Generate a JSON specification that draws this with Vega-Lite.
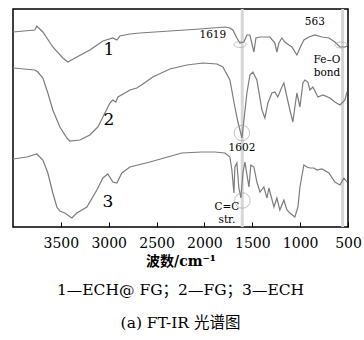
{
  "$schema": "https://vega.github.io/schema/vega-lite/v6.json",
  "width": 335,
  "height": 218,
  "autosize": {"type": "none"},
  "padding": {"left": 13, "top": 9, "right": 16, "bottom": 113},
  "background": "white",
  "config": {
    "view": {"stroke": "black", "strokeWidth": 1.5},
    "font": "DejaVu Serif"
  },
  "title": {
    "text": ["1—ECH@ FG；2—FG；3—ECH", "(a) FT-IR 光谱图"],
    "orient": "bottom",
    "anchor": "middle",
    "offset": 15,
    "font": "'DejaVu Serif', 'Noto Sans CJK SC', serif",
    "fontSize": 15.5,
    "fontWeight": "normal",
    "lineHeight": 33,
    "color": "black"
  },
  "datasets": {
    "spectra": [
      {"wn": 4000, "t": 195, "s": "1"}, {"wn": 3772, "t": 197, "s": "1"}, {"wn": 3751, "t": 201, "s": "1"}, {"wn": 3688, "t": 195, "s": "1"},
      {"wn": 3584, "t": 180, "s": "1"}, {"wn": 3479, "t": 169, "s": "1"}, {"wn": 3427, "t": 165, "s": "1"}, {"wn": 3333, "t": 170, "s": "1"},
      {"wn": 3197, "t": 177, "s": "1"}, {"wn": 3061, "t": 186, "s": "1"}, {"wn": 2957, "t": 189, "s": "1"}, {"wn": 2915, "t": 187, "s": "1"},
      {"wn": 2883, "t": 191, "s": "1"}, {"wn": 2779, "t": 193, "s": "1"}, {"wn": 2674, "t": 194, "s": "1"}, {"wn": 2361, "t": 196, "s": "1"},
      {"wn": 2047, "t": 198, "s": "1"}, {"wn": 1786, "t": 200, "s": "1"}, {"wn": 1734, "t": 199, "s": "1"}, {"wn": 1703, "t": 197, "s": "1"},
      {"wn": 1661, "t": 189, "s": "1"}, {"wn": 1629, "t": 184, "s": "1"}, {"wn": 1588, "t": 185, "s": "1"}, {"wn": 1556, "t": 192, "s": "1"},
      {"wn": 1525, "t": 192, "s": "1"}, {"wn": 1483, "t": 175, "s": "1"}, {"wn": 1462, "t": 189, "s": "1"}, {"wn": 1420, "t": 190, "s": "1"},
      {"wn": 1368, "t": 190, "s": "1"}, {"wn": 1316, "t": 190, "s": "1"}, {"wn": 1264, "t": 184, "s": "1"}, {"wn": 1243, "t": 175, "s": "1"},
      {"wn": 1222, "t": 184, "s": "1"}, {"wn": 1191, "t": 189, "s": "1"}, {"wn": 1159, "t": 185, "s": "1"}, {"wn": 1117, "t": 182, "s": "1"},
      {"wn": 1086, "t": 180, "s": "1"}, {"wn": 1034, "t": 172, "s": "1"}, {"wn": 1002, "t": 179, "s": "1"}, {"wn": 961, "t": 187, "s": "1"},
      {"wn": 908, "t": 190, "s": "1"}, {"wn": 846, "t": 192, "s": "1"}, {"wn": 772, "t": 190, "s": "1"}, {"wn": 699, "t": 189, "s": "1"},
      {"wn": 637, "t": 185, "s": "1"}, {"wn": 584, "t": 180, "s": "1"}, {"wn": 532, "t": 180, "s": "1"}, {"wn": 511, "t": 181, "s": "1"},

      {"wn": 4000, "t": 159, "s": "2"}, {"wn": 3772, "t": 157, "s": "2"}, {"wn": 3740, "t": 155, "s": "2"}, {"wn": 3688, "t": 149, "s": "2"},
      {"wn": 3636, "t": 134, "s": "2"}, {"wn": 3584, "t": 117, "s": "2"}, {"wn": 3510, "t": 100, "s": "2"}, {"wn": 3437, "t": 89, "s": "2"},
      {"wn": 3406, "t": 86, "s": "2"}, {"wn": 3301, "t": 87, "s": "2"}, {"wn": 3197, "t": 92, "s": "2"}, {"wn": 3113, "t": 100, "s": "2"},
      {"wn": 3040, "t": 114, "s": "2"}, {"wn": 2988, "t": 124, "s": "2"}, {"wn": 2957, "t": 127, "s": "2"}, {"wn": 2925, "t": 125, "s": "2"},
      {"wn": 2904, "t": 130, "s": "2"}, {"wn": 2831, "t": 134, "s": "2"}, {"wn": 2779, "t": 137, "s": "2"}, {"wn": 2706, "t": 139, "s": "2"},
      {"wn": 2643, "t": 143, "s": "2"}, {"wn": 2539, "t": 150, "s": "2"}, {"wn": 2361, "t": 158, "s": "2"}, {"wn": 2183, "t": 162, "s": "2"},
      {"wn": 2016, "t": 164, "s": "2"}, {"wn": 1870, "t": 163, "s": "2"}, {"wn": 1807, "t": 160, "s": "2"}, {"wn": 1734, "t": 147, "s": "2"},
      {"wn": 1682, "t": 120, "s": "2"}, {"wn": 1650, "t": 105, "s": "2"}, {"wn": 1608, "t": 89, "s": "2"}, {"wn": 1556, "t": 134, "s": "2"},
      {"wn": 1525, "t": 152, "s": "2"}, {"wn": 1494, "t": 155, "s": "2"}, {"wn": 1452, "t": 147, "s": "2"}, {"wn": 1399, "t": 117, "s": "2"},
      {"wn": 1368, "t": 109, "s": "2"}, {"wn": 1337, "t": 124, "s": "2"}, {"wn": 1295, "t": 134, "s": "2"}, {"wn": 1264, "t": 135, "s": "2"},
      {"wn": 1233, "t": 130, "s": "2"}, {"wn": 1191, "t": 140, "s": "2"}, {"wn": 1170, "t": 144, "s": "2"}, {"wn": 1138, "t": 130, "s": "2"},
      {"wn": 1107, "t": 117, "s": "2"}, {"wn": 1076, "t": 105, "s": "2"}, {"wn": 1055, "t": 120, "s": "2"}, {"wn": 1034, "t": 134, "s": "2"},
      {"wn": 1002, "t": 120, "s": "2"}, {"wn": 971, "t": 144, "s": "2"}, {"wn": 950, "t": 147, "s": "2"}, {"wn": 919, "t": 145, "s": "2"},
      {"wn": 898, "t": 137, "s": "2"}, {"wn": 867, "t": 140, "s": "2"}, {"wn": 814, "t": 130, "s": "2"}, {"wn": 762, "t": 132, "s": "2"},
      {"wn": 689, "t": 129, "s": "2"}, {"wn": 637, "t": 125, "s": "2"}, {"wn": 584, "t": 122, "s": "2"}, {"wn": 532, "t": 127, "s": "2"},
      {"wn": 511, "t": 135, "s": "2"},

      {"wn": 4000, "t": 68, "s": "3"}, {"wn": 3855, "t": 70, "s": "3"}, {"wn": 3751, "t": 73, "s": "3"}, {"wn": 3688, "t": 67, "s": "3"},
      {"wn": 3636, "t": 54, "s": "3"}, {"wn": 3584, "t": 34, "s": "3"}, {"wn": 3542, "t": 20, "s": "3"}, {"wn": 3510, "t": 16, "s": "3"},
      {"wn": 3458, "t": 14, "s": "3"}, {"wn": 3385, "t": 9, "s": "3"}, {"wn": 3333, "t": 14, "s": "3"}, {"wn": 3228, "t": 20, "s": "3"},
      {"wn": 3124, "t": 37, "s": "3"}, {"wn": 3061, "t": 49, "s": "3"}, {"wn": 3009, "t": 53, "s": "3"}, {"wn": 2957, "t": 45, "s": "3"},
      {"wn": 2915, "t": 44, "s": "3"}, {"wn": 2863, "t": 54, "s": "3"}, {"wn": 2779, "t": 60, "s": "3"}, {"wn": 2570, "t": 65, "s": "3"},
      {"wn": 2236, "t": 74, "s": "3"}, {"wn": 2027, "t": 75, "s": "3"}, {"wn": 1891, "t": 75, "s": "3"}, {"wn": 1786, "t": 74, "s": "3"},
      {"wn": 1734, "t": 70, "s": "3"}, {"wn": 1713, "t": 57, "s": "3"}, {"wn": 1692, "t": 34, "s": "3"}, {"wn": 1682, "t": 60, "s": "3"},
      {"wn": 1661, "t": 64, "s": "3"}, {"wn": 1640, "t": 39, "s": "3"}, {"wn": 1619, "t": 29, "s": "3"}, {"wn": 1598, "t": 54, "s": "3"},
      {"wn": 1577, "t": 65, "s": "3"}, {"wn": 1535, "t": 40, "s": "3"}, {"wn": 1515, "t": 62, "s": "3"}, {"wn": 1483, "t": 60, "s": "3"},
      {"wn": 1452, "t": 45, "s": "3"}, {"wn": 1420, "t": 35, "s": "3"}, {"wn": 1379, "t": 40, "s": "3"}, {"wn": 1347, "t": 29, "s": "3"},
      {"wn": 1326, "t": 39, "s": "3"}, {"wn": 1274, "t": 20, "s": "3"}, {"wn": 1243, "t": 29, "s": "3"}, {"wn": 1212, "t": 17, "s": "3"},
      {"wn": 1170, "t": 27, "s": "3"}, {"wn": 1138, "t": 17, "s": "3"}, {"wn": 1107, "t": 14, "s": "3"}, {"wn": 1055, "t": 10, "s": "3"},
      {"wn": 1023, "t": 20, "s": "3"}, {"wn": 1002, "t": 40, "s": "3"}, {"wn": 961, "t": 62, "s": "3"}, {"wn": 929, "t": 60, "s": "3"},
      {"wn": 898, "t": 59, "s": "3"}, {"wn": 856, "t": 59, "s": "3"}, {"wn": 825, "t": 57, "s": "3"}, {"wn": 772, "t": 58, "s": "3"},
      {"wn": 699, "t": 54, "s": "3"}, {"wn": 637, "t": 45, "s": "3"}, {"wn": 584, "t": 42, "s": "3"}, {"wn": 543, "t": 49, "s": "3"},
      {"wn": 511, "t": 45, "s": "3"}
    ],
    "vlines": [{"wn": 1605}, {"wn": 556}],
    "ovals": [{"wn": 1629, "t": 182.5}, {"wn": 574, "t": 182}],
    "circles": [{"wn": 1608, "t": 94}, {"wn": 1603, "t": 26.5}],
    "curveLabels": [
      {"wn": 2998, "t": 177, "label": "1"},
      {"wn": 2998, "t": 107, "label": "2"},
      {"wn": 3009, "t": 25, "label": "3"}
    ],
    "notes": [
      {"wn": 1912, "t": 192, "label": "1619"},
      {"wn": 846, "t": 205, "label": "563"},
      {"wn": 720, "t": 167, "label": "Fe–O"},
      {"wn": 720, "t": 154, "label": "bond"},
      {"wn": 1608, "t": 79, "label": "1602"},
      {"wn": 1765, "t": 20, "label": "C=C"},
      {"wn": 1765, "t": 7, "label": "str."}
    ]
  },
  "encoding": {
    "x": {
      "field": "wn", "type": "quantitative",
      "scale": {"domain": [500, 4000], "reverse": true, "nice": false, "zero": false},
      "axis": {
        "title": "波数/cm⁻¹",
        "values": [3500, 3000, 2500, 2000, 1500, 1000, 500],
        "format": "d",
        "grid": false,
        "domain": false,
        "tickSize": -5,
        "tickColor": "black",
        "tickWidth": 1,
        "labelPadding": 14,
        "labelFont": "DejaVu Serif",
        "labelFontSize": 14,
        "labelColor": "black",
        "labelFlush": false,
        "labelOverlap": false,
        "labelBound": false,
        "titleFont": "'DejaVu Serif', 'Noto Sans CJK SC', serif",
        "titleFontSize": 14,
        "titleFontWeight": "bold",
        "titleColor": "black",
        "titlePadding": 4
      }
    },
    "y": {
      "field": "t", "type": "quantitative",
      "scale": {"domain": [0, 218], "nice": false, "zero": false},
      "axis": null
    }
  },
  "layer": [
    {
      "data": {"name": "vlines"},
      "mark": {"type": "rule", "color": "#d6d6d6", "strokeWidth": 3},
      "encoding": {"x": {"field": "wn", "type": "quantitative"}, "y": null}
    },
    {
      "data": {"name": "spectra"},
      "mark": {"type": "line", "color": "#7c7c7c", "strokeWidth": 1.2},
      "encoding": {"detail": {"field": "s"}}
    },
    {
      "data": {"name": "ovals"},
      "mark": {"type": "point", "filled": false, "shape": "M-1,0A1,0.5,0,1,0,1,0A1,0.5,0,1,0,-1,0Z", "size": 144, "stroke": "#a8a8a8", "strokeWidth": 1}
    },
    {
      "data": {"name": "circles"},
      "mark": {"type": "point", "filled": false, "shape": "circle", "size": 240, "stroke": "#a8a8a8", "strokeWidth": 1}
    },
    {
      "data": {"name": "curveLabels"},
      "mark": {"type": "text", "font": "DejaVu Serif", "fontSize": 17, "color": "black", "align": "center", "baseline": "middle"},
      "encoding": {"text": {"field": "label"}}
    },
    {
      "data": {"name": "notes"},
      "mark": {"type": "text", "font": "DejaVu Serif", "fontSize": 10.5, "color": "black", "align": "center", "baseline": "middle"},
      "encoding": {"text": {"field": "label"}}
    }
  ]
}
